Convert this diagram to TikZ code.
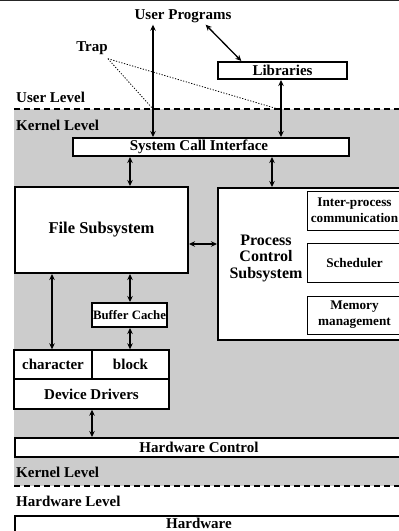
\documentclass[tikz,border=0pt]{standalone}
\usepackage{fontspec}
\setmainfont{Liberation Serif}
\usetikzlibrary{arrows.meta}
\begin{document}
\begin{tikzpicture}[x=1pt,y=-1pt,
  lbl/.style={font=\bfseries\fontsize{15}{16.5}\selectfont, inner sep=0pt},
  biglbl/.style={font=\bfseries\fontsize{16}{16.5}\selectfont, inner sep=0pt},
  thickbox/.style={draw, line width=2pt, fill=white, inner sep=0pt, font=\bfseries\fontsize{15}{16.5}\selectfont},
  thinbox/.style={draw, line width=1pt, fill=white, inner sep=0pt, align=center, font=\bfseries\fontsize{13.2}{16}\selectfont},
  midbox/.style={draw, line width=1.4pt, fill=white, inner sep=0pt, font=\bfseries\fontsize{15}{16.5}\selectfont},
  arr/.style={line width=1.3pt, {Stealth[length=6pt,width=5.5pt]}-{Stealth[length=6pt,width=5.5pt]}},
  levelline/.style={line width=1.6pt, dash pattern=on 6pt off 4pt},
  trapline/.style={line width=0.8pt, dash pattern=on 1.2pt off 1.6pt}]
\useasboundingbox (0,0) rectangle (399,531);
\clip (0,0) rectangle (399,531);
\fill[black!20] (14,109) rectangle (420,486);
\draw[line width=1pt, black!85] (0,0.5) -- (399,0.5);
\draw[levelline] (14,109) -- (420,109);
\draw[levelline] (14,486) -- (420,486);

\node[lbl, anchor=west] (ul) at (16,97) {User Level};
\node[lbl, anchor=west] (kl1) at (16,125) {Kernel Level};
\node[lbl, anchor=west] (kl2) at (16,472) {Kernel Level};
\node[lbl, anchor=west] (hl) at (16,501) {Hardware Level};

\node[lbl, text height=10pt, text depth=3pt, inner sep=2pt] (up) at (183,16) {User Programs};
\node[lbl] (trap) at (92,48) {Trap};
\node[thickbox, minimum width=129pt, minimum height=17pt] (lib) at (282.5,70.5) {Libraries};

\node[thickbox, minimum width=276pt, minimum height=18pt] (sci) at (211,147) {};
\node[lbl] (sciT) at (199,147) {System Call Interface};

\node[thickbox, minimum width=173pt, minimum height=86pt, font=\bfseries\fontsize{16.5}{16.5}\selectfont] (file) at (101.5,230) {File Subsystem};
\node[thickbox, minimum width=202pt, minimum height=152pt] (proc) at (319,264) {};
\node[biglbl, align=center] (procT) at (266,258) {Process\\Control\\Subsystem};
\node[thinbox, minimum width=95pt, minimum height=39pt] (ipc) at (354.5,210.5) {Inter-process\\communication};
\node[thinbox, minimum width=95pt, minimum height=39pt] (sched) at (354.5,262.5) {Scheduler};
\node[thinbox, minimum width=95pt, minimum height=38pt] (mem) at (354.5,315) {Memory\\management};

\node[thickbox, minimum width=75pt, minimum height=24pt, font=\bfseries\fontsize{12.8}{14}\selectfont] (buf) at (129.5,315) {Buffer Cache};
\node[midbox, minimum width=78pt, minimum height=29pt] (char) at (53,364.5) {character};
\node[midbox, minimum width=77pt, minimum height=29pt] (block) at (130.5,364.5) {block};
\node[midbox, minimum width=155pt, minimum height=30pt] (dd) at (91.5,394) {Device Drivers};

\node[thickbox, minimum width=405pt, minimum height=19pt] (hwc) at (217,447.5) {};
\node[lbl] (hwcT) at (199,447.5) {Hardware Control};
\node[thickbox, minimum width=405pt, minimum height=30pt] (hw) at (217,531) {};
\node[lbl] (hwT) at (199,523) {Hardware};

\coordinate (t1) at (153,109);
\coordinate (t2) at (278,109);
\coordinate (xa) at (153,0);
\coordinate (xb) at (281,0);
\coordinate (xc) at (130,0);
\coordinate (xd) at (272,0);
\coordinate (xe) at (52,0);
\coordinate (xf) at (92,0);
\coordinate (yh) at (0,244);

\draw[arr] (up.south -| xa) -- (sci.north -| xa);
\draw[arr] (up.-21) -- (lib.167);
\draw[arr] (lib.south -| xb) -- (sci.north -| xb);
\draw[trapline] ([yshift=-4pt]trap.south east) -- (t1);
\draw[trapline] ([yshift=-4pt]trap.south east) -- (t2);
\draw[arr] (sci.south -| xc) -- (file.north -| xc);
\draw[arr] (sci.south -| xd) -- (proc.north -| xd);
\draw[arr] (file.east |- yh) -- (proc.west |- yh);
\draw[arr] (file.south -| xe) -- (char.north -| xe);
\draw[arr] (file.south -| xc) -- (buf.north -| xc);
\draw[arr] (buf.south -| xc) -- (block.north -| xc);
\draw[arr] (dd.south -| xf) -- (hwc.north -| xf);
\end{tikzpicture}
\end{document}
